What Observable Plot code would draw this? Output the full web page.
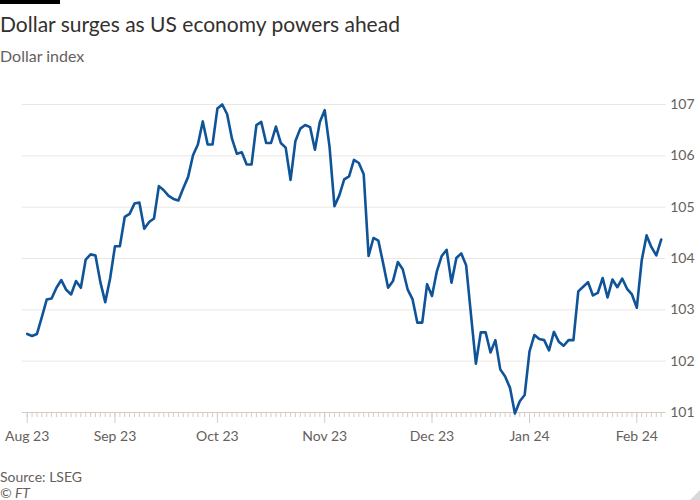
<!DOCTYPE html>
<html>
<head>
<meta charset="utf-8">
<script src="https://cdn.jsdelivr.net/npm/d3@7"></script>
<script src="https://cdn.jsdelivr.net/npm/@observablehq/plot@0.6"></script>
<style>
  html, body { margin: 0; padding: 0; background: #fff; }
  body { width: 700px; height: 500px; position: relative; overflow: hidden; font-family: Lato, sans-serif; }
  #bar { position: absolute; left: 0; top: 0; width: 60px; height: 4px; background: #000; }
  #title { position: absolute; left: 0; top: 13px; font-size: 21px; line-height: 1; color: #33302e; white-space: nowrap; }
  #subtitle { position: absolute; left: 0; top: 48px; font-size: 16px; line-height: 1; color: #66605c; white-space: nowrap; }
  #chart { position: absolute; left: 0; top: 80px; }
  #source { position: absolute; left: 0; top: 470px; font-size: 14px; line-height: 1; color: #66605c; }
  #copy { position: absolute; left: 0; top: 486px; font-size: 14px; line-height: 1; color: #66605c; font-style: italic; }
  #corner { position: absolute; right: 0; bottom: 0; width: 0; height: 0; border-left: 10px solid transparent; border-bottom: 10px solid #d9d9d9; }
</style>
</head>
<body>
<div id="bar"></div>
<div id="title">Dollar surges as US economy powers ahead</div>
<div id="subtitle">Dollar index</div>
<div id="chart"></div>
<div id="source">Source: LSEG</div>
<div id="copy">© FT</div>
<div id="corner"></div>
<script>
// Dollar index, one value per trading day (early Aug 2023 – early Feb 2024)
const values = [
  102.53,102.49,102.53,102.86,103.20,103.22,103.43,103.58,103.39,103.30,
  103.56,103.43,103.98,104.08,104.06,103.54,103.15,103.61,104.24,104.24,
  104.81,104.87,105.07,105.09,104.58,104.71,104.78,105.41,105.33,105.22,
  105.16,105.13,105.37,105.59,106.01,106.22,106.67,106.22,106.22,106.92,
  107.00,106.81,106.33,106.04,106.07,105.83,105.83,106.60,106.66,106.25,
  106.25,106.57,106.25,106.16,105.53,106.29,106.53,106.60,106.56,106.12,
  106.66,106.89,106.17,105.02,105.23,105.54,105.60,105.92,105.86,105.64,
  104.05,104.40,104.35,103.90,103.43,103.56,103.93,103.79,103.40,103.21,
  102.75,102.75,103.50,103.27,103.75,104.05,104.17,103.53,104.01,104.10,
  103.87,102.90,101.95,102.56,102.56,102.17,102.41,101.84,101.70,101.48,
  100.98,101.22,101.34,102.19,102.51,102.43,102.41,102.21,102.57,102.38,
  102.30,102.41,102.41,103.36,103.45,103.54,103.28,103.33,103.62,103.24,
  103.59,103.44,103.61,103.41,103.30,103.04,103.96,104.45,104.22,104.06,
  104.37
];
const monthLabels = ["Aug 23", "Sep 23", "Oct 23", "Nov 23", "Dec 23", "Jan 24", "Feb 24"];
const monthIndex = [0, 18, 39, 61, 83, 103, 125];
const yTicks = [101, 102, 103, 104, 105, 106, 107];

const data = values.map((v, i) => ({i, v}));
const dayIndex = data.map(d => d.i);
const last = values.length - 1;

const chart = Plot.plot({
  width: 700,
  height: 370,
  marginTop: 24,
  marginBottom: 38,
  marginLeft: 26.7,
  marginRight: 39.3,
  x: {domain: [0, last], label: null},
  y: {domain: [101, 107], label: null},
  style: {fontFamily: "Lato, sans-serif", fontSize: "14px", color: "#66605c", background: "transparent", overflow: "visible"},
  marks: [
    Plot.ruleY(yTicks.filter(t => t !== 101), {y: d => d, x1: -1, x2: last + 1, stroke: "#ede6e0", strokeWidth: 1}),
    Plot.axisX({ticks: dayIndex, tickSize: 5, tickFormat: () => "", stroke: "#d6ccc3"}),
    Plot.axisX({ticks: monthIndex, tickSize: 11, tickPadding: 8, tickFormat: d => monthLabels[monthIndex.indexOf(d)], stroke: "#d6ccc3", fill: "#66605c"}),
    Plot.ruleY([101], {y: d => d, x1: -1, x2: last + 1, stroke: "#d6ccc3", strokeWidth: 1}),
    Plot.axisY({anchor: "right", ticks: yTicks, tickSize: 0, tickPadding: 9, tickFormat: d => String(d), label: null, fill: "#66605c"}),
    Plot.line(data, {x: "i", y: "v", stroke: "#0f5499", strokeWidth: 2.6, strokeLinejoin: "round", strokeLinecap: "round"})
  ]
});
document.getElementById("chart").appendChild(chart);
</script>
</body>
</html>
